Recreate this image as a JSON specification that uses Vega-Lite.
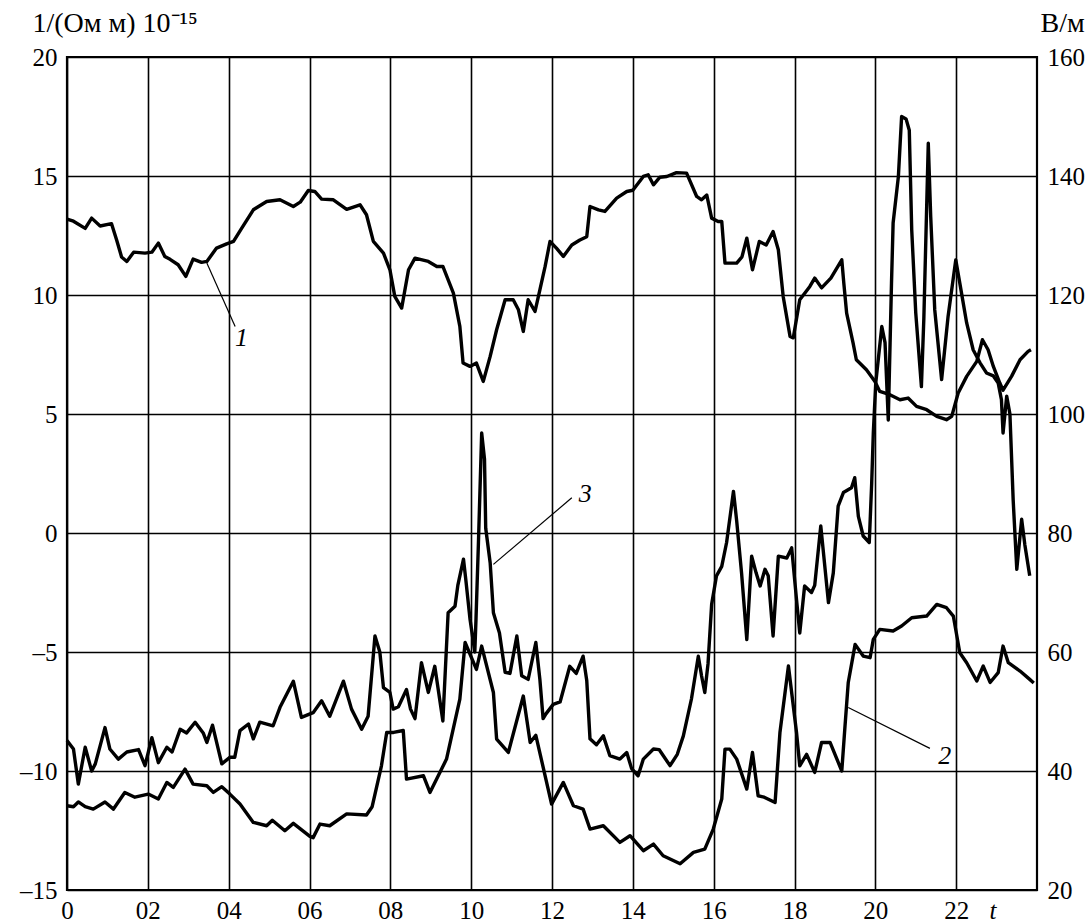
{
"$schema": "https://vega.github.io/schema/vega-lite/v6.json",
"width": 970, "height": 833,
"autosize": {"type": "none"},
"padding": {"left": 67, "top": 57, "right": 51, "bottom": 32},
"background": "white",
"config": {
 "view": {"stroke": "black", "strokeWidth": 2.2},
 "axis": {"domain": false, "ticks": false, "labelFont": "Liberation Serif", "labelFontSize": 25, "labelColor": "black", "titleFont": "Liberation Serif", "titleFontSize": 28, "titleFontWeight": "normal", "titleColor": "black", "gridColor": "black", "gridWidth": 1.6, "labelFlush": false, "labelOverlap": false}
},
"datasets": {
 "cond": [
  {"s":"1","t":0.0,"v":13.19},{"s":"1","t":0.16,"v":13.1},{"s":"1","t":0.45,"v":12.8},{"s":"1","t":0.61,"v":13.23},{"s":"1","t":0.82,"v":12.9},{"s":"1","t":1.1,"v":13.0},{"s":"1","t":1.23,"v":12.3},{"s":"1","t":1.35,"v":11.6},{"s":"1","t":1.48,"v":11.41},{"s":"1","t":1.65,"v":11.8},{"s":"1","t":1.93,"v":11.76},{"s":"1","t":2.1,"v":11.8},{"s":"1","t":2.26,"v":12.18},{"s":"1","t":2.42,"v":11.62},{"s":"1","t":2.55,"v":11.5},{"s":"1","t":2.75,"v":11.27},{"s":"1","t":2.94,"v":10.78},{"s":"1","t":3.12,"v":11.51},{"s":"1","t":3.33,"v":11.37},{"s":"1","t":3.46,"v":11.41},{"s":"1","t":3.7,"v":11.97},{"s":"1","t":3.95,"v":12.15},{"s":"1","t":4.12,"v":12.25},{"s":"1","t":4.32,"v":12.8},{"s":"1","t":4.61,"v":13.58},{"s":"1","t":4.94,"v":13.93},{"s":"1","t":5.27,"v":14.0},{"s":"1","t":5.6,"v":13.72},{"s":"1","t":5.77,"v":13.9},{"s":"1","t":5.97,"v":14.39},{"s":"1","t":6.13,"v":14.35},{"s":"1","t":6.3,"v":14.03},{"s":"1","t":6.59,"v":14.0},{"s":"1","t":6.92,"v":13.6},{"s":"1","t":7.25,"v":13.79},{"s":"1","t":7.41,"v":13.37},{"s":"1","t":7.58,"v":12.25},{"s":"1","t":7.83,"v":11.76},{"s":"1","t":7.99,"v":11.06},{"s":"1","t":8.11,"v":9.94},{"s":"1","t":8.28,"v":9.45},{"s":"1","t":8.45,"v":11.06},{"s":"1","t":8.61,"v":11.55},{"s":"1","t":8.94,"v":11.41},{"s":"1","t":9.15,"v":11.2},{"s":"1","t":9.3,"v":11.2},{"s":"1","t":9.56,"v":10.08},{"s":"1","t":9.72,"v":8.68},{"s":"1","t":9.8,"v":7.14},{"s":"1","t":9.97,"v":7.0},{"s":"1","t":10.13,"v":7.14},{"s":"1","t":10.3,"v":6.37},{"s":"1","t":10.47,"v":7.42},{"s":"1","t":10.63,"v":8.54},{"s":"1","t":10.84,"v":9.8},{"s":"1","t":11.04,"v":9.8},{"s":"1","t":11.17,"v":9.38},{"s":"1","t":11.29,"v":8.47},{"s":"1","t":11.41,"v":9.8},{"s":"1","t":11.58,"v":9.31},{"s":"1","t":11.7,"v":10.22},{"s":"1","t":11.83,"v":11.2},{"s":"1","t":11.95,"v":12.25},{"s":"1","t":12.11,"v":11.97},{"s":"1","t":12.28,"v":11.62},{"s":"1","t":12.49,"v":12.1},{"s":"1","t":12.69,"v":12.31},{"s":"1","t":12.86,"v":12.45},{"s":"1","t":12.94,"v":13.72},{"s":"1","t":13.15,"v":13.58},{"s":"1","t":13.31,"v":13.51},{"s":"1","t":13.6,"v":14.07},{"s":"1","t":13.85,"v":14.35},{"s":"1","t":14.0,"v":14.4},{"s":"1","t":14.26,"v":14.98},{"s":"1","t":14.38,"v":15.05},{"s":"1","t":14.51,"v":14.63},{"s":"1","t":14.67,"v":14.95},{"s":"1","t":14.84,"v":14.98},{"s":"1","t":15.08,"v":15.14},{"s":"1","t":15.33,"v":15.12},{"s":"1","t":15.58,"v":14.14},{"s":"1","t":15.7,"v":14.0},{"s":"1","t":15.83,"v":14.2},{"s":"1","t":15.95,"v":13.23},{"s":"1","t":16.11,"v":13.09},{"s":"1","t":16.2,"v":13.09},{"s":"1","t":16.28,"v":11.34},{"s":"1","t":16.57,"v":11.34},{"s":"1","t":16.7,"v":11.6},{"s":"1","t":16.82,"v":12.39},{"s":"1","t":16.96,"v":11.06},{"s":"1","t":17.13,"v":12.25},{"s":"1","t":17.3,"v":12.1},{"s":"1","t":17.47,"v":12.67},{"s":"1","t":17.6,"v":11.9},{"s":"1","t":17.72,"v":9.94},{"s":"1","t":17.89,"v":8.26},{"s":"1","t":17.97,"v":8.2},{"s":"1","t":18.13,"v":9.8},{"s":"1","t":18.38,"v":10.36},{"s":"1","t":18.5,"v":10.71},{"s":"1","t":18.67,"v":10.3},{"s":"1","t":18.9,"v":10.71},{"s":"1","t":19.17,"v":11.48},{"s":"1","t":19.22,"v":10.5},{"s":"1","t":19.29,"v":9.24},{"s":"1","t":19.45,"v":7.98},{"s":"1","t":19.53,"v":7.28},{"s":"1","t":19.78,"v":6.86},{"s":"1","t":19.99,"v":6.37},{"s":"1","t":20.11,"v":5.95},{"s":"1","t":20.36,"v":5.81},{"s":"1","t":20.61,"v":5.6},{"s":"1","t":20.81,"v":5.67},{"s":"1","t":21.02,"v":5.32},{"s":"1","t":21.27,"v":5.18},{"s":"1","t":21.52,"v":4.9},{"s":"1","t":21.76,"v":4.76},{"s":"1","t":21.89,"v":4.9},{"s":"1","t":22.05,"v":5.88},{"s":"1","t":22.26,"v":6.58},{"s":"1","t":22.51,"v":7.21},{"s":"1","t":22.65,"v":8.12},{"s":"1","t":22.79,"v":7.7},{"s":"1","t":22.92,"v":7.0},{"s":"1","t":23.08,"v":6.3},{"s":"1","t":23.16,"v":6.0},{"s":"1","t":23.37,"v":6.58},{"s":"1","t":23.58,"v":7.28},{"s":"1","t":23.78,"v":7.63},{"s":"1","t":23.85,"v":7.7},
  {"s":"2","t":0.0,"v":-11.46},{"s":"2","t":0.16,"v":-11.5},{"s":"2","t":0.28,"v":-11.3},{"s":"2","t":0.45,"v":-11.5},{"s":"2","t":0.65,"v":-11.6},{"s":"2","t":0.94,"v":-11.3},{"s":"2","t":1.15,"v":-11.6},{"s":"2","t":1.43,"v":-10.9},{"s":"2","t":1.68,"v":-11.1},{"s":"2","t":2.01,"v":-10.97},{"s":"2","t":2.26,"v":-11.18},{"s":"2","t":2.47,"v":-10.48},{"s":"2","t":2.63,"v":-10.69},{"s":"2","t":2.92,"v":-9.92},{"s":"2","t":3.12,"v":-10.55},{"s":"2","t":3.46,"v":-10.62},{"s":"2","t":3.62,"v":-10.9},{"s":"2","t":3.83,"v":-10.66},{"s":"2","t":4.03,"v":-10.97},{"s":"2","t":4.28,"v":-11.39},{"s":"2","t":4.61,"v":-12.16},{"s":"2","t":4.94,"v":-12.3},{"s":"2","t":5.08,"v":-12.07},{"s":"2","t":5.39,"v":-12.51},{"s":"2","t":5.6,"v":-12.2},{"s":"2","t":6.01,"v":-12.75},{"s":"2","t":6.09,"v":-12.8},{"s":"2","t":6.26,"v":-12.23},{"s":"2","t":6.5,"v":-12.3},{"s":"2","t":6.92,"v":-11.8},{"s":"2","t":7.41,"v":-11.85},{"s":"2","t":7.55,"v":-11.5},{"s":"2","t":7.78,"v":-9.78},{"s":"2","t":7.91,"v":-8.38},{"s":"2","t":8.08,"v":-8.38},{"s":"2","t":8.32,"v":-8.3},{"s":"2","t":8.4,"v":-10.34},{"s":"2","t":8.82,"v":-10.2},{"s":"2","t":8.98,"v":-10.9},{"s":"2","t":9.39,"v":-9.5},{"s":"2","t":9.72,"v":-6.98},{"s":"2","t":9.85,"v":-4.6},{"s":"2","t":10.13,"v":-5.73},{"s":"2","t":10.26,"v":-4.75},{"s":"2","t":10.55,"v":-6.7},{"s":"2","t":10.63,"v":-8.66},{"s":"2","t":10.92,"v":-9.22},{"s":"2","t":11.29,"v":-6.85},{"s":"2","t":11.46,"v":-8.8},{"s":"2","t":11.6,"v":-8.5},{"s":"2","t":11.99,"v":-11.39},{"s":"2","t":12.28,"v":-10.48},{"s":"2","t":12.53,"v":-11.46},{"s":"2","t":12.77,"v":-11.6},{"s":"2","t":12.94,"v":-12.44},{"s":"2","t":13.27,"v":-12.3},{"s":"2","t":13.68,"v":-13.0},{"s":"2","t":13.93,"v":-12.72},{"s":"2","t":14.26,"v":-13.35},{"s":"2","t":14.51,"v":-13.07},{"s":"2","t":14.75,"v":-13.56},{"s":"2","t":15.17,"v":-13.9},{"s":"2","t":15.5,"v":-13.42},{"s":"2","t":15.78,"v":-13.28},{"s":"2","t":15.99,"v":-12.44},{"s":"2","t":16.2,"v":-11.18},{"s":"2","t":16.28,"v":-9.08},{"s":"2","t":16.4,"v":-9.08},{"s":"2","t":16.57,"v":-9.5},{"s":"2","t":16.82,"v":-10.76},{"s":"2","t":16.96,"v":-9.22},{"s":"2","t":17.1,"v":-11.04},{"s":"2","t":17.25,"v":-11.1},{"s":"2","t":17.52,"v":-11.32},{"s":"2","t":17.64,"v":-8.38},{"s":"2","t":17.85,"v":-5.59},{"s":"2","t":18.05,"v":-8.38},{"s":"2","t":18.13,"v":-9.78},{"s":"2","t":18.3,"v":-9.3},{"s":"2","t":18.5,"v":-10.06},{"s":"2","t":18.67,"v":-8.8},{"s":"2","t":18.88,"v":-8.8},{"s":"2","t":19.17,"v":-10.0},{"s":"2","t":19.25,"v":-8.1},{"s":"2","t":19.33,"v":-6.28},{"s":"2","t":19.5,"v":-4.68},{"s":"2","t":19.7,"v":-5.17},{"s":"2","t":19.87,"v":-5.24},{"s":"2","t":19.95,"v":-4.47},{"s":"2","t":20.11,"v":-4.05},{"s":"2","t":20.44,"v":-4.12},{"s":"2","t":20.65,"v":-3.91},{"s":"2","t":20.9,"v":-3.56},{"s":"2","t":21.27,"v":-3.49},{"s":"2","t":21.52,"v":-3.0},{"s":"2","t":21.76,"v":-3.14},{"s":"2","t":21.93,"v":-3.49},{"s":"2","t":22.09,"v":-5.03},{"s":"2","t":22.26,"v":-5.45},{"s":"2","t":22.51,"v":-6.22},{"s":"2","t":22.67,"v":-5.59},{"s":"2","t":22.84,"v":-6.28},{"s":"2","t":23.04,"v":-5.87},{"s":"2","t":23.16,"v":-4.75},{"s":"2","t":23.29,"v":-5.45},{"s":"2","t":23.58,"v":-5.8},{"s":"2","t":23.82,"v":-6.15},{"s":"2","t":23.92,"v":-6.3}
 ],
 "field": [
  {"t":0.0,"e":45.1},{"t":0.16,"e":43.7},{"t":0.28,"e":37.8},{"t":0.45,"e":44.0},{"t":0.61,"e":40.0},{"t":0.7,"e":41.2},{"t":0.94,"e":47.3},{"t":1.06,"e":43.7},{"t":1.27,"e":42.0},{"t":1.48,"e":43.2},{"t":1.77,"e":43.6},{"t":1.93,"e":40.9},{"t":2.1,"e":45.6},{"t":2.26,"e":41.4},{"t":2.47,"e":44.0},{"t":2.6,"e":43.2},{"t":2.8,"e":47.0},{"t":2.96,"e":46.4},{"t":3.17,"e":48.2},{"t":3.37,"e":46.4},{"t":3.46,"e":44.8},{"t":3.6,"e":47.7},{"t":3.83,"e":41.2},{"t":4.03,"e":42.3},{"t":4.15,"e":42.3},{"t":4.28,"e":46.8},{"t":4.49,"e":47.9},{"t":4.61,"e":45.4},{"t":4.77,"e":48.2},{"t":5.1,"e":47.6},{"t":5.27,"e":50.7},{"t":5.6,"e":55.1},{"t":5.8,"e":49.0},{"t":6.09,"e":49.8},{"t":6.3,"e":51.8},{"t":6.5,"e":49.2},{"t":6.84,"e":55.1},{"t":7.04,"e":50.4},{"t":7.29,"e":47.0},{"t":7.45,"e":49.2},{"t":7.62,"e":62.7},{"t":7.74,"e":60.0},{"t":7.83,"e":54.0},{"t":7.99,"e":53.2},{"t":8.07,"e":50.4},{"t":8.2,"e":50.8},{"t":8.4,"e":53.7},{"t":8.5,"e":50.4},{"t":8.61,"e":48.8},{"t":8.77,"e":58.2},{"t":8.94,"e":53.2},{"t":9.1,"e":57.6},{"t":9.27,"e":49.8},{"t":9.3,"e":48.4},{"t":9.43,"e":66.6},{"t":9.6,"e":67.7},{"t":9.67,"e":71.2},{"t":9.81,"e":75.6},{"t":9.87,"e":72.0},{"t":9.97,"e":65.6},{"t":10.09,"e":60.0},{"t":10.12,"e":65.6},{"t":10.18,"e":78.4},{"t":10.26,"e":96.8},{"t":10.33,"e":92.4},{"t":10.36,"e":80.8},{"t":10.47,"e":75.0},{"t":10.55,"e":66.6},{"t":10.7,"e":63.2},{"t":10.84,"e":56.6},{"t":10.96,"e":56.4},{"t":11.13,"e":62.7},{"t":11.25,"e":56.0},{"t":11.41,"e":55.4},{"t":11.6,"e":61.6},{"t":11.7,"e":55.4},{"t":11.78,"e":48.8},{"t":11.85,"e":49.6},{"t":12.03,"e":51.2},{"t":12.2,"e":51.6},{"t":12.44,"e":57.6},{"t":12.6,"e":56.4},{"t":12.77,"e":59.3},{"t":12.86,"e":55.2},{"t":12.94,"e":45.4},{"t":13.1,"e":44.4},{"t":13.27,"e":45.9},{"t":13.43,"e":42.6},{"t":13.68,"e":42.0},{"t":13.85,"e":43.1},{"t":13.97,"e":40.4},{"t":14.13,"e":39.2},{"t":14.26,"e":42.0},{"t":14.51,"e":43.7},{"t":14.65,"e":43.6},{"t":14.92,"e":40.9},{"t":15.1,"e":42.8},{"t":15.25,"e":45.9},{"t":15.45,"e":52.1},{"t":15.62,"e":59.3},{"t":15.7,"e":56.0},{"t":15.78,"e":53.2},{"t":15.86,"e":58.0},{"t":15.95,"e":68.0},{"t":16.07,"e":72.8},{"t":16.2,"e":74.4},{"t":16.32,"e":78.4},{"t":16.49,"e":87.0},{"t":16.57,"e":82.0},{"t":16.69,"e":73.3},{"t":16.82,"e":62.1},{"t":16.94,"e":76.1},{"t":17.05,"e":73.3},{"t":17.15,"e":71.1},{"t":17.27,"e":73.9},{"t":17.35,"e":72.8},{"t":17.47,"e":62.7},{"t":17.6,"e":76.1},{"t":17.81,"e":75.8},{"t":17.93,"e":77.5},{"t":18.05,"e":68.8},{"t":18.13,"e":63.2},{"t":18.25,"e":71.1},{"t":18.42,"e":70.0},{"t":18.5,"e":71.2},{"t":18.65,"e":81.2},{"t":18.84,"e":68.3},{"t":18.96,"e":73.3},{"t":19.08,"e":84.5},{"t":19.21,"e":86.8},{"t":19.41,"e":87.6},{"t":19.49,"e":89.3},{"t":19.58,"e":82.8},{"t":19.7,"e":79.5},{"t":19.85,"e":78.4},{"t":19.91,"e":88.4},{"t":19.95,"e":96.8},{"t":20.01,"e":105.2},{"t":20.16,"e":114.7},{"t":20.24,"e":112.0},{"t":20.32,"e":99.0},{"t":20.4,"e":122.0},{"t":20.44,"e":132.1},{"t":20.57,"e":139.9},{"t":20.65,"e":150.0},{"t":20.76,"e":149.6},{"t":20.84,"e":147.7},{"t":20.9,"e":131.0},{"t":21.0,"e":117.0},{"t":21.14,"e":104.6},{"t":21.2,"e":116.0},{"t":21.31,"e":145.5},{"t":21.37,"e":133.2},{"t":21.47,"e":117.5},{"t":21.64,"e":105.8},{"t":21.8,"e":116.4},{"t":21.99,"e":125.9},{"t":22.09,"e":122.0},{"t":22.26,"e":115.3},{"t":22.42,"e":110.8},{"t":22.59,"e":108.6},{"t":22.75,"e":106.9},{"t":22.92,"e":106.4},{"t":23.04,"e":105.2},{"t":23.12,"e":102.4},{"t":23.16,"e":96.8},{"t":23.25,"e":103.0},{"t":23.33,"e":100.0},{"t":23.41,"e":85.6},{"t":23.5,"e":73.9},{"t":23.62,"e":82.3},{"t":23.7,"e":78.0},{"t":23.82,"e":72.8}
 ],
 "leaders": [
  {"t":3.46,"v":11.34,"t2":4.16,"v2":8.68},
  {"t":10.55,"v":-1.32,"t2":12.49,"v2":1.48},
  {"t":19.33,"v":-7.33,"t2":21.35,"v2":-9.05}
 ],
 "labels": [
  {"t":4.32,"v":8.2,"label":"1"},
  {"t":12.82,"v":1.62,"label":"3"},
  {"t":21.72,"v":-9.36,"label":"2"}
 ]
},
"encoding": {
 "x": {"field": "t", "type": "quantitative", "scale": {"domain": [0, 24], "nice": false, "zero": false},
  "axis": {"values": [0,2,4,6,8,10,12,14,16,18,20,22,22.9],
   "labelExpr": "datum.value == 22.9 ? 't' : (datum.value == 0 ? '0' : (datum.value < 10 ? '0' + datum.value : '' + datum.value))",
   "grid": true,
   "gridOpacity": {"condition": {"test": "datum.value == 22.9", "value": 0}, "value": 1},
   "labelFontStyle": {"condition": {"test": "datum.value == 22.9", "value": "italic"}, "value": "normal"},
   "labelPadding": 8, "labelBaseline": "top", "title": null}}
},
"layer": [
 {"data": {"name": "cond"},
  "mark": {"type": "line", "color": "black", "strokeWidth": 3.4, "strokeJoin": "round"},
  "encoding": {
   "y": {"field": "v", "type": "quantitative", "scale": {"domain": [-15, 20], "nice": false, "zero": false},
    "axis": {"values": [-15,-10,-5,0,5,10,15,20], "labelExpr": "datum.value < 0 ? '–' + abs(datum.value) : '' + datum.value",
     "grid": true, "labelPadding": 10, "title": "1/(Ом м) 10⁻¹⁵", "titleAngle": 0, "titleAlign": "left", "titleBaseline": "alphabetic", "titleX": -35, "titleY": -26}},
   "detail": {"field": "s", "type": "nominal"}}},
 {"data": {"name": "field"},
  "mark": {"type": "line", "color": "black", "strokeWidth": 3.4, "strokeJoin": "round"},
  "encoding": {
   "y": {"field": "e", "type": "quantitative", "scale": {"domain": [20, 160], "nice": false, "zero": false},
    "axis": {"orient": "right", "values": [20,40,60,80,100,120,140,160], "grid": false, "labelPadding": 10,
     "title": "В/м", "titleAngle": 0, "titleAlign": "left", "titleBaseline": "alphabetic", "titleX": 3, "titleY": -26}}}},
 {"data": {"name": "leaders"},
  "mark": {"type": "rule", "color": "black", "strokeWidth": 1.2},
  "encoding": {
   "x2": {"field": "t2"},
   "y": {"field": "v", "type": "quantitative", "scale": {"domain": [-15, 20], "nice": false, "zero": false}, "axis": null},
   "y2": {"field": "v2"}}},
 {"data": {"name": "labels"},
  "mark": {"type": "text", "color": "black", "font": "Liberation Serif", "fontStyle": "italic", "fontSize": 26, "align": "center", "baseline": "middle"},
  "encoding": {
   "y": {"field": "v", "type": "quantitative", "scale": {"domain": [-15, 20], "nice": false, "zero": false}, "axis": null},
   "text": {"field": "label"}}}
],
"resolve": {"scale": {"y": "independent"}, "axis": {"y": "independent"}}
}
